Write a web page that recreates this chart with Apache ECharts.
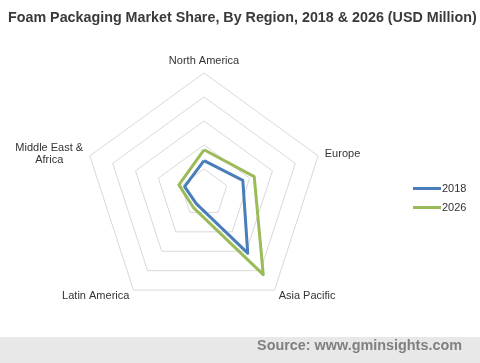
<!DOCTYPE html>
<html><head><meta charset="utf-8">
<script src="https://cdn.jsdelivr.net/npm/echarts@6/dist/echarts.min.js"></script>
<style>html,body{margin:0;padding:0;background:#fff}#c{width:480px;height:363px}</style>
</head><body><div id="c"></div>
<script>
// indicator order listed clockwise from top as seen in the chart
const regions = ['North America', 'Europe', 'Asia Pacific', 'Latin America', 'Middle East &\nAfrica'];
const values2018 = [27, 34, 62, 11, 17];
const values2026 = [36, 44, 84, 15, 22];
const seriesNames = ['2018', '2026'];
const maxValue = 100;

// ECharts places indicators counter-clockwise; reorder to draw clockwise
const order = [0, 4, 3, 2, 1];
const ind = order.map(i => ({ name: regions[i], max: maxValue }));
const v18 = order.map(i => values2018[i]);
const v26 = order.map(i => values2026[i]);

const chart = echarts.init(document.getElementById('c'), null, { renderer: 'canvas' });
chart.setOption({
  animation: false,
  backgroundColor: '#ffffff',
  title: {
    text: 'Foam Packaging Market Share, By Region, 2018 & 2026 (USD Million)',
    left: 3, top: 6,
    textStyle: { fontFamily: 'Liberation Sans, Arial, sans-serif', fontWeight: 'bold', fontSize: 14.3, color: '#3a3a3a' }
  },
  legend: {
    orient: 'vertical', left: 408, top: 178,
    itemWidth: 28, itemHeight: 3, itemGap: 8,
    icon: 'rect',
    textStyle: { fontFamily: 'Liberation Sans, Arial, sans-serif', fontSize: 11, color: '#333', padding: [0, 0, 0, -4] },
    data: seriesNames
  },
  radar: {
    center: [204, 193],
    radius: 120,
    splitNumber: 5,
    shape: 'polygon',
    nameGap: 7,
    indicator: ind,
    axisName: {
      color: '#333', fontFamily: 'Liberation Sans, Arial, sans-serif', fontSize: 11,
      formatter: function (n) {
        if (n.indexOf('\n') >= 0) {
          return n.split('\n').map(s => '{c|' + s + '}').join('\n');
        }
        return n;
      },
      rich: { c: { width: 68, align: 'center', fontSize: 11, lineHeight: 12, color: '#333', fontFamily: 'Liberation Sans, Arial, sans-serif' } }
    },
    splitLine: { lineStyle: { color: '#d9d9d9', width: 1 } },
    splitArea: { show: false },
    axisLine: { show: false },
    axisTick: { show: false },
    axisLabel: { show: false }
  },
  series: [{
    type: 'radar',
    symbol: 'none',
    data: [
      { name: seriesNames[0], value: v18, lineStyle: { color: '#4a7ebb', width: 3 }, itemStyle: { color: '#4a7ebb' } },
      { name: seriesNames[1], value: v26, lineStyle: { color: '#9bbb59', width: 3 }, itemStyle: { color: '#9bbb59' } }
    ]
  }],
  graphic: [
    { type: 'rect', left: 0, top: 337, shape: { width: 480, height: 26 }, style: { fill: '#e8e8e8' }, z: -1 },
    { type: 'text', right: 18, top: 339, style: { text: 'Source: www.gminsights.com', fill: '#808080', font: 'bold 14.4px "Liberation Sans", Arial, sans-serif' } }
  ]
});
</script></body></html>
